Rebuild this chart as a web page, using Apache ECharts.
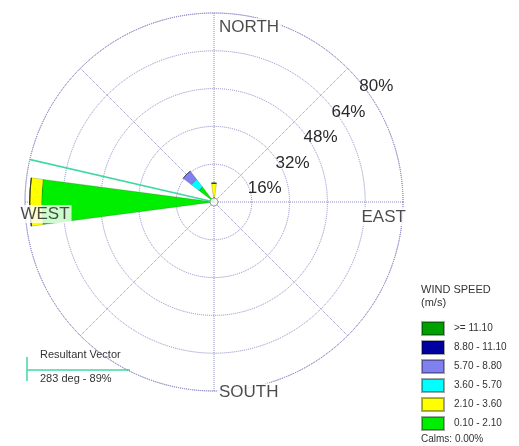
<!DOCTYPE html>
<html>
<head>
<meta charset="utf-8">
<script src="https://cdn.jsdelivr.net/npm/echarts@6/dist/echarts.min.js"></script>
<style>
html,body{margin:0;padding:0;background:#fff;}
#chart{width:519px;height:446px;}
</style>
</head>
<body>
<div id="chart"></div>
<script>
// ---- data ----
const directions = ['N','NNE','NE','ENE','E','ESE','SE','SSE','S','SSW','SW','WSW','W','WNW','NW','NNW'];
const speedBins = ['0.10 - 2.10','2.10 - 3.60','3.60 - 5.70','5.70 - 8.80','8.80 - 11.10','>= 11.10'];
const bin010_210  = [2,0,0,0,0,0,0,0,0,0,0,0,73,0,8,0];
const bin210_360  = [6,0,0,0,0,0,0,0,0,0,0,0,5,0,0,0];
const bin360_570  = [0,0,0,0,0,0,0,0,0,0,0,0,0,0,4,0];
const bin570_880  = [0,0,0,0,0,0,0,0,0,0,0,0,0,0,4.5,0];
const bin880_1110 = [0,0,0,0,0,0,0,0,0,0,0,0,0,0,0,0];
const bin1110     = [0,0,0,0,0,0,0,0,0,0,0,0,0,0,0,0];
const ringTicks = [16,32,48,64,80];
const compassLabels = ['NORTH','EAST','SOUTH','WEST'];
const compassAngles = [0,90,180,270];
const resultantDeg = 283;
const resultantPct = 89;
const calmsPct = 0.00;

// ---- styles ----
const binColors = ['#00ee00','#ffff00','#00ffff','#8080f0','#0000a0','#00a000'];
const binData = [bin010_210, bin210_360, bin360_570, bin570_880, bin880_1110, bin1110];
const FONT = 'Liberation Sans, Arial, sans-serif';
const gridColor = '#8a8ac4';
const vecColor = '#3fd8a0';
const C = [214, 202], R = 189;

const chart = echarts.init(document.getElementById('chart'), null, {renderer:'canvas'});

const barSeries = speedBins.map((name, i) => ({
  name: name,
  type: 'bar',
  coordinateSystem: 'polar',
  polarIndex: 1,
  stack: 'wind',
  barCategoryGap: '33%',
  data: binData[i],
  itemStyle: {color: binColors[i], borderColor: 'rgba(0,0,0,0.35)', borderWidth: 0.5},
  z: 3
}));

const labelLayout = {
  NORTH: {r: 74, pos: 'right', dist: 3, off: [0, 0]},
  EAST:  {r: 61.6, pos: 'right', dist: 0, off: [0, 15]},
  SOUTH: {r: 75, pos: 'right', dist: 3, off: [0, 13]},
  WEST:  {r: 60.3, pos: 'left', dist: 0, off: [0, 12]}
};

const option = {
  animation: false,
  backgroundColor: '#fff',
  title: [
    {text: 'WIND SPEED\n(m/s)', left: 421, top: 283, padding: 0,
     textStyle: {fontSize: 11, lineHeight: 13, fontWeight: 'normal', color: '#333', fontFamily: FONT}},
    {text: 'Calms: ' + calmsPct.toFixed(2) + '%', left: 421, top: 434, padding: 0,
     textStyle: {fontSize: 10, fontWeight: 'normal', color: '#333', fontFamily: FONT}}
  ],
  legend: {
    orient: 'vertical', left: 421, top: 321, padding: 0, height: 125,
    itemWidth: 22, itemHeight: 13, itemGap: 4,
    icon: 'rect', selectedMode: false,
    data: speedBins.slice().reverse(),
    textStyle: {fontSize: 10, lineHeight: 13, color: '#333', fontFamily: FONT, padding: [0,0,0,5]}
  },
  polar: [
    {center: C, radius: R},
    {center: C, radius: R},
    {center: C, radius: R}
  ],
  angleAxis: [
    {polarIndex: 0, type: 'value', min: 0, max: 360, interval: 45, startAngle: 90, clockwise: true,
     axisLine: {show: true, lineStyle: {color: gridColor, type: 'dotted', width: 1}},
     axisTick: {show: false}, axisLabel: {show: false},
     splitLine: {show: true, lineStyle: {color: gridColor, type: 'dotted', width: 1}}},
    {polarIndex: 1, type: 'category', data: directions, startAngle: 90 + 11.25, clockwise: true, boundaryGap: true,
     axisLine: {show: false}, axisTick: {show: false}, axisLabel: {show: false}, splitLine: {show: false}},
    {polarIndex: 2, type: 'value', min: 0, max: 360, startAngle: 42.4,
     axisLine: {show: false}, axisTick: {show: false}, axisLabel: {show: false}, splitLine: {show: false}}
  ],
  radiusAxis: [
    {polarIndex: 0, type: 'value', min: 0, max: 80, interval: 16,
     axisLine: {show: false}, axisTick: {show: false}, axisLabel: {show: false},
     splitLine: {show: true, lineStyle: {color: gridColor, type: 'dotted', width: 1}}},
    {polarIndex: 1, type: 'value', min: 0, max: 80, show: false},
    {polarIndex: 2, type: 'value', min: 0, max: 80, interval: 16,
     axisLine: {show: false}, axisTick: {show: false}, splitLine: {show: false},
     axisLabel: {show: true, margin: -16, align: 'center', verticalAlign: 'middle',
       padding: [0, 0, 0, 24], fontSize: 17, color: '#2a2a2a', fontFamily: FONT,
       formatter: v => ringTicks.indexOf(v) >= 0 ? v + '%' : ''}}
  ],
  series: barSeries.concat([
    {
      name: 'Resultant Vector', type: 'line', coordinateSystem: 'polar', polarIndex: 0,
      clip: false, symbol: 'none', z: 4,
      lineStyle: {color: vecColor, width: 1.5},
      data: [[0, resultantDeg], [resultantPct, resultantDeg]]
    },
    {
      name: 'calm', type: 'scatter', coordinateSystem: 'polar', polarIndex: 0, z: 6,
      symbolSize: 8, itemStyle: {color: '#fff', borderColor: '#888', borderWidth: 1},
      data: [[0, 0]]
    },
    {
      name: 'compass', type: 'scatter', coordinateSystem: 'polar', polarIndex: 0, z: 8,
      symbolSize: 0, clip: false,
      data: compassLabels.map((t, i) => {
        const L = labelLayout[t];
        return {
          name: t, value: [L.r, compassAngles[i]],
          label: {show: true, position: L.pos, distance: L.dist, offset: L.off,
            formatter: t, fontSize: 17, color: '#1e1e1e', fontFamily: FONT,
            backgroundColor: '#fff', padding: [1, 2, 0, 2]}
        };
      })
    }
  ]),
  graphic: [
    {type: 'line', shape: {x1: 27, y1: 357, x2: 27, y2: 381}, style: {stroke: vecColor, lineWidth: 1.5}},
    {type: 'line', shape: {x1: 27, y1: 370, x2: 130, y2: 370}, style: {stroke: vecColor, lineWidth: 1.5}},
    {type: 'text', left: 40, top: 349, style: {text: 'Resultant Vector', fontSize: 11, fill: '#333', fontFamily: FONT}},
    {type: 'text', left: 40, top: 373, style: {text: resultantDeg + ' deg - ' + resultantPct + '%', fontSize: 11, fill: '#333', fontFamily: FONT}}
  ]
};
chart.setOption(option);
</script>
</body>
</html>
